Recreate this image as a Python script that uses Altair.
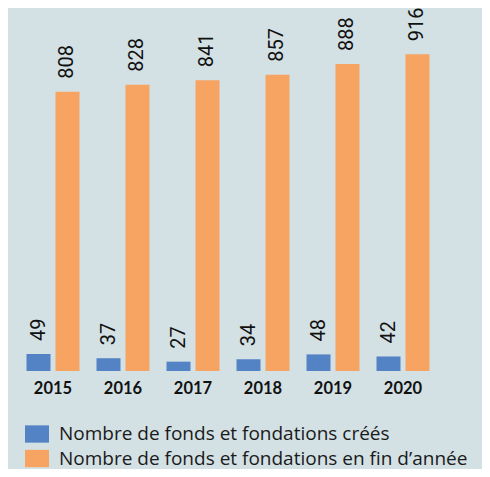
import altair as alt
import pandas as pd

years = ["2015", "2016", "2017", "2018", "2019", "2020"]
created = [49, 37, 27, 34, 48, 42]
end_of_year = [808, 828, 841, 857, 888, 916]
series_names = ["Nombre de fonds et fondations créés",
                "Nombre de fonds et fondations en fin d’année"]
colors = ["#5383c4", "#f7a463"]

rows = []
for y, c, e in zip(years, created, end_of_year):
    rows.append({"year": y, "series": series_names[0], "value": c})
    rows.append({"year": y, "series": series_names[1], "value": e})
df = pd.DataFrame(rows)

x = alt.X("year:N", sort=years, title=None,
          scale=alt.Scale(paddingInner=0.243, paddingOuter=0.1215),
          axis=alt.Axis(domain=False, ticks=False, labelAngle=0,
                        labelFont="Lato", labelFontWeight="bold",
                        labelFontSize=16.5, labelColor="#111111",
                        labelPadding=9))
xo = alt.XOffset("series:N", sort=series_names,
                 scale=alt.Scale(paddingInner=0.172, paddingOuter=0))
y = alt.Y("value:Q", scale=alt.Scale(domain=[0, 1050], nice=False),
          axis=None)

bars = alt.Chart(df).mark_bar().encode(
    x=x, xOffset=xo, y=y,
    color=alt.Color("series:N", sort=series_names,
                    scale=alt.Scale(domain=series_names, range=colors),
                    legend=alt.Legend(
                        title=None, orient="none", legendX=7, legendY=414,
                        direction="vertical",
                        symbolType="M-1,-0.72H1V0.72H-1Z", symbolSize=576,
                        symbolStrokeWidth=0, symbolOpacity=1,
                        labelFont="Open Sans", labelFontSize=19,
                        labelColor="#1a1a1a", labelOffset=10,
                        rowPadding=2.5, labelLimit=500)),
)

labels = alt.Chart(df).mark_text(
    angle=270, align="left", baseline="middle", dx=13,
    font="Roboto", fontSize=20, color="#111111"
).encode(x=x, xOffset=xo, y=y, text="value:Q")

chart = (bars + labels).properties(
    width=420, height=363,
    padding={"left": 10, "right": 44, "top": 0, "bottom": 98},
    autosize=alt.AutoSizeParams(type="none"),
    background="#d3e0e4",
).configure_view(stroke=None)

chart.save("out.html", embed_options={"renderer": "svg", "actions": False})
